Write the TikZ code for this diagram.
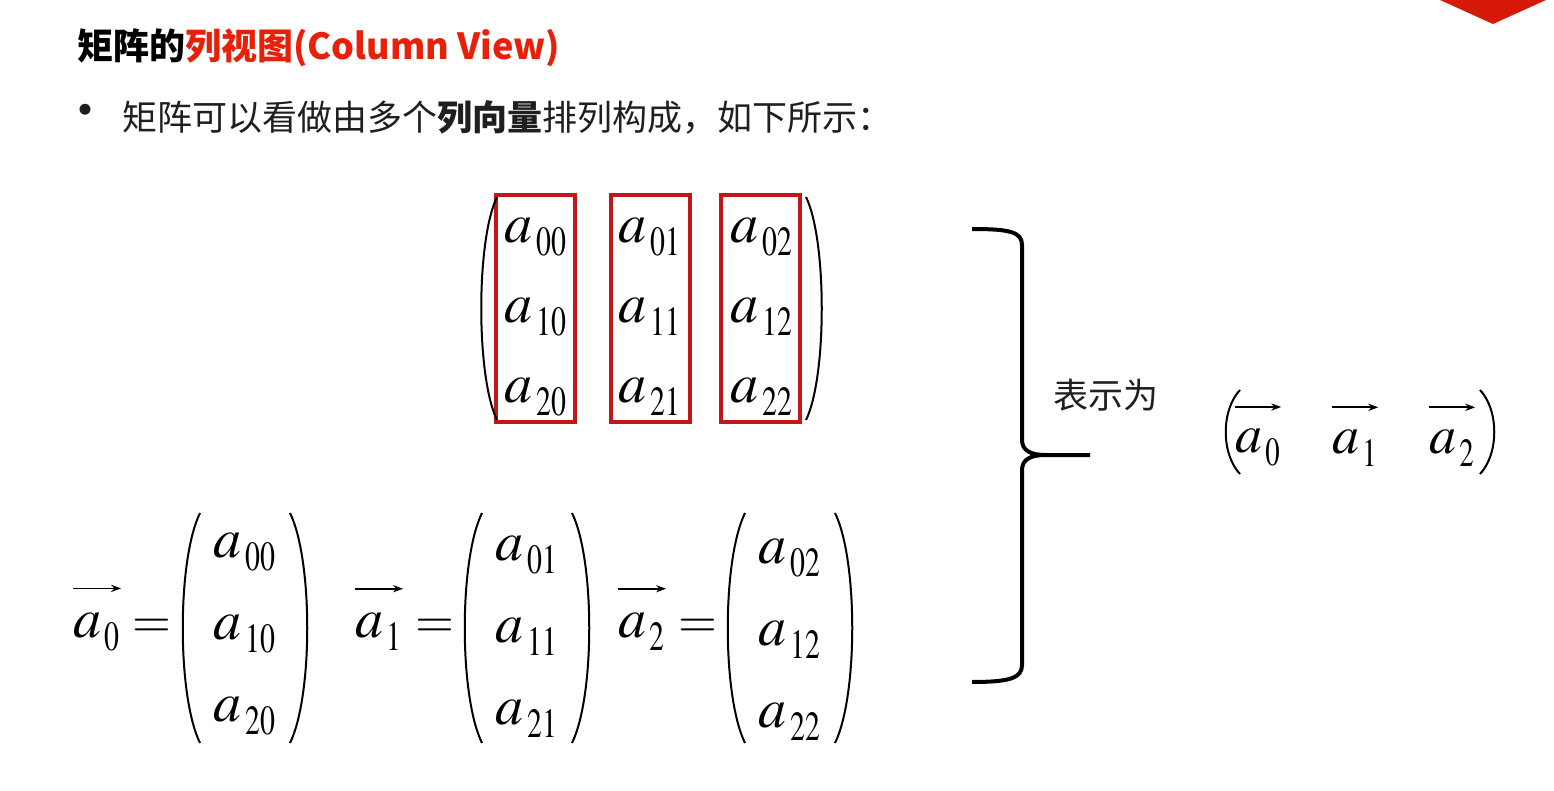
\documentclass[tikz,border=0pt]{standalone}
\usepackage{mathptmx}
\usepackage{graphicx}
\usepackage[no-math]{fontspec}
\setmainfont{Liberation Serif}
\newfontfamily\cjk{Noto Sans CJK SC}
\usetikzlibrary{arrows.meta}
\definecolor{boxred}{RGB}{192,24,24}
\definecolor{titlered}{RGB}{232,32,10}
\definecolor{cornerred}{RGB}{214,24,6}
\newcommand\lowsub[1]{a_{\mkern1.5mu\raisebox{-2.5pt}{\scalebox{0.72}[1]{$\scriptstyle #1$}}}}
\begin{document}
\begin{tikzpicture}[x=0.5pt,y=-0.5pt,
    entry/.style={inner sep=0pt,font=\fontsize{28}{30}\selectfont},
    rowentry/.style={inner sep=0pt,font=\fontsize{27}{28}\selectfont},
    cjktext/.style={inner sep=0pt,font=\cjk\fontsize{17.5}{20}\selectfont,text=black!88},
    colbox/.style={draw=boxred,line width=1.6pt},
    paren/.style={line width=1pt},
    brace/.style={line width=2pt},
    vecarrow/.style={line width=0.9pt,-{Stealth[length=5pt,width=3.6pt]}}]
  \useasboundingbox (0,0) rectangle (1554,791);
  \fill[cornerred] (1440,0) -- (1546,0) -- (1493,24) -- cycle;
  \node[anchor=west,inner sep=0pt,font=\cjk\bfseries\fontsize{18}{20}\selectfont] (title) at (77,48)
    {矩阵的\textcolor{titlered}{列视图(Column View)}};
  \node[cjktext,font=\cjk\fontsize{26}{28}\selectfont] (dot) at (86,117) {•};
  \node[cjktext,anchor=west] (intro) at (122,117) {矩阵可以看做由多个\textbf{列向量}排列构成，如下所示：};
  \foreach \c/\x in {0/536,1/650,2/762}
    \foreach \r/\y in {0/237,1/317,2/397}
      \node[entry] (m\r\c) at (\x,\y) {$\lowsub{\r\c}$};
  \foreach \x in {535.5,650.5,760.5}
    \draw[colbox] (\x-39.5,195) rectangle (\x+39.5,422);
  \draw[paren] (497,197) .. controls (476,240) and (476,377) .. (497,420);
  \draw[paren] (806,197) .. controls (827,240) and (827,377) .. (806,420);
  \foreach \c/\x/\l/\e/\y in {0/245/97/152/552,1/527/379/435/555,2/790/642/698/558}{
    \node[entry] (v\c) at (\l,632) {$\lowsub{\c}$};
    \draw[vecarrow] ([yshift=12pt]v\c.north west) -- ([yshift=12pt]v\c.north east);
    \node[entry,font=\fontsize{25}{28}\selectfont] (eq\c) at (\e,628) {$=$};
    \node[entry] (c0\c) at (\x,\y) {$\lowsub{0\c}$};
    \node[entry] (c1\c) at (\x,\y+82) {$\lowsub{1\c}$};
    \node[entry] (c2\c) at (\x,\y+164) {$\lowsub{2\c}$};
    \draw[paren] (\x-45,513) .. controls (\x-68,560) and (\x-68,696) .. (\x-45,743);
    \draw[paren] (\x+45,513) .. controls (\x+68,560) and (\x+68,696) .. (\x+45,743);
  }
  \draw[brace] (972,229) .. controls (1010,229) and (1022,232) .. (1022,245) -- (1022,440)
    .. controls (1022,450) and (1030,455) .. (1045,455) -- (1090,455);
  \draw[brace] (1045,455) .. controls (1030,455) and (1022,460) .. (1022,470) -- (1022,665)
    .. controls (1022,678) and (1010,682) .. (972,682);
  \node[cjktext] (shown) at (1106,395) {表示为};
  \foreach \c/\x in {0/1258,1/1355,2/1452}{
    \node[rowentry] (r\c) at (\x,448) {$\lowsub{\c}$};
    \draw[vecarrow] ([yshift=11pt]r\c.north west) -- ([yshift=11pt]r\c.north east);
  }
  \draw[paren] (1240,390) .. controls (1221,410) and (1221,454) .. (1240,474);
  \draw[paren] (1480,390) .. controls (1499,410) and (1499,454) .. (1480,474);
\end{tikzpicture}
\end{document}
